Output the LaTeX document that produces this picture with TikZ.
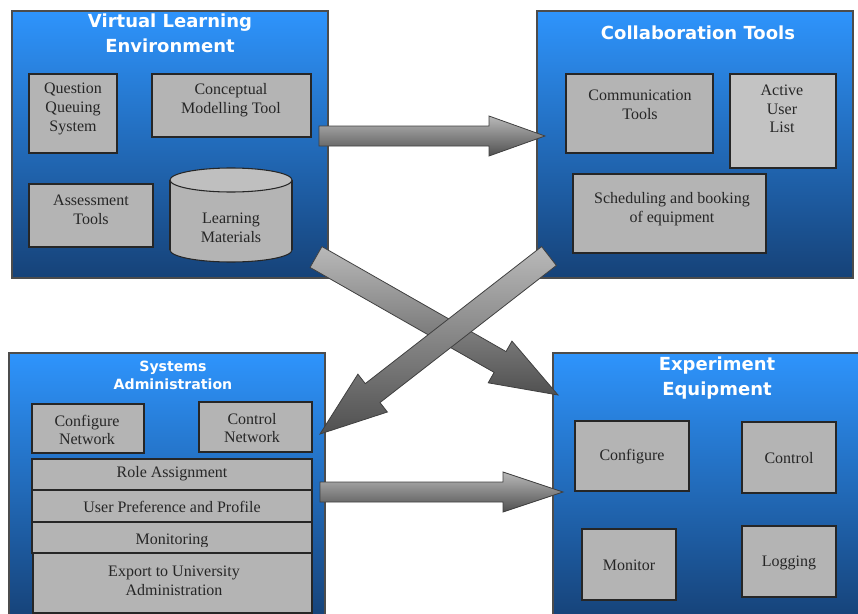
\documentclass[tikz,border=0pt]{standalone}
\usepackage{fontspec}
\setmainfont{Liberation Serif}
\newfontfamily\headfont{DejaVu Sans}
\usepackage{xcolor}
\usetikzlibrary{calc, fit, positioning}

\definecolor{paneltop}{RGB}{46,148,252}
\definecolor{panelbot}{RGB}{22,66,120}
\definecolor{boxgray}{RGB}{180,180,180}
\definecolor{arrowlight}{RGB}{185,185,185}
\definecolor{arrowdark}{RGB}{80,80,80}

% block arrow: from, to, shaft half width, head half width, head length
\newcommand{\fatarrow}[5]{%
  \coordinate (fa-h) at ($(#2)!#5!(#1)$);
  \draw[fat] ($(#1)!#3!90:(#2)$) -- ($(fa-h)!#3!90:(#2)$) -- ($(fa-h)!#4!90:(#2)$)
    -- (#2) -- ($(fa-h)!#4!-90:(#2)$) -- ($(fa-h)!#3!-90:(#2)$) -- ($(#1)!#3!-90:(#2)$) -- cycle;
}

\begin{document}
\begin{tikzpicture}[
    x=0.75pt, y=-0.75pt,
    panel/.style={rectangle, draw=black!70, top color=paneltop, bottom color=panelbot, inner sep=0pt, line width=0.8pt},
    paneltitle/.style={text=white, font=\headfont\bfseries\fontsize{13.5}{19}\selectfont, align=center, inner sep=0pt},
    box/.style={rectangle, draw=black!85, fill=boxgray, inner sep=0pt, line width=0.8pt},
    boxtext/.style={align=center, inner sep=0pt, text=black!85, font=\fontsize{12}{14}\selectfont},
    fat/.style={draw=black!75, line width=0.6pt, top color=arrowlight, bottom color=arrowdark}
]
\clip (0,0) rectangle (858,614);

% panels
\node[panel, fit={(12,11) (328,278)}] (vle) {};
\node[panel, fit={(537,11) (853,278)}] (colab) {};
\node[panel, fit={(9,353) (325,620)}] (sysadm) {};
\node[panel, fit={(553,353) (862,620)}] (equip) {};

\node[paneltitle] (vle-title) at (170,33) {Virtual Learning\\Environment};
\node[paneltitle] (colab-title) at (698,33) {Collaboration Tools};
\node[paneltitle, font=\headfont\bfseries\fontsize{10.6}{13.5}\selectfont] (sysadm-title) at (173,375) {Systems\\Administration};
\node[paneltitle] (equip-title) at (717,378) {Experiment\\Equipment};

% virtual learning environment
\node[box, fit={(29,74) (117,153)}] (qqs) {};
\node[boxtext] (qqs-text) at (73,109) {Question\\Queuing\\System};
\node[box, fit={(152,74) (311,137)}] (cmt) {};
\node[boxtext] (cmt-text) at (231,100) {Conceptual\\Modelling Tool};
\node[box, fit={(29,184) (153,247)}] (asmt) {};
\node[boxtext] (asmt-text) at (91,210) {Assessment\\Tools};
\fill[boxgray, draw=black!85, line width=0.8pt] (231,250) ellipse [x radius=45.75pt, y radius=9pt];
\fill[boxgray] (170,180) rectangle (292,250);
\draw[black!85, line width=0.8pt] (170,180) -- (170,250) (292,180) -- (292,250);
\fill[boxgray!85!white, draw=black!85, line width=0.8pt] (231,180) ellipse [x radius=45.75pt, y radius=9pt];
\node[boxtext] (lm) at (231,228) {Learning\\Materials};

% collaboration tools
\node[box, fit={(566,74) (713,153)}] (comm) {};
\node[boxtext] (comm-text) at (640,105) {Communication\\Tools};
\node[box, fill=boxgray!80!white, fit={(730,74) (836,168)}] (aul) {};
\node[boxtext] (aul-text) at (782,109) {Active\\User\\List};
\node[box, fit={(573,174) (766,253)}] (sched) {};
\node[boxtext] (sched-text) at (672,209) {Scheduling and booking\\of equipment};

% systems administration
\node[box, fit={(32,404) (144,453)}] (cfgnet) {};
\node[boxtext] (cfgnet-text) at (87,430) {Configure\\Network};
\node[box, fit={(199,402) (312,452)}] (ctlnet) {};
\node[boxtext] (ctlnet-text) at (252,428) {Control\\Network};
\node[box, fit={(32,459) (312,490)}] (role) {};
\node[boxtext] (role-text) at (172,474) {Role Assignment};
\node[box, fit={(32,490) (312,522)}] (upp) {};
\node[boxtext] (upp-text) at (172,507) {User Preference and Profile};
\node[box, fit={(32,522) (312,553)}] (monit) {};
\begin{scope}
  \clip (32,522) rectangle (312,546);
  \node[boxtext] (monit-text) at (172,541) {Monitoring};
\end{scope}
\node[box, fit={(33,553) (312,613)}] (export) {};
\node[boxtext] (export-text) at (174,581) {Export to University\\Administration};

% experiment equipment
\node[box, fit={(575,421) (689,491)}] (cfg) {};
\node[boxtext] (cfg-text) at (632,457) {Configure};
\node[box, fit={(742,422) (836,493)}] (ctl) {};
\node[boxtext] (ctl-text) at (789,458) {Control};
\node[box, fit={(582,529) (676,600)}] (mntr) {};
\node[boxtext] (mntr-text) at (629,565) {Monitor};
\node[box, fit={(742,526) (836,597)}] (logg) {};
\node[boxtext] (logg-text) at (789,563) {Logging};

% arrow ends
\coordinate (vle-out) at (319,136);
\coordinate (colab-in) at (545,136);
\coordinate (sysadm-out) at (320,492);
\coordinate (equip-in) at (563,492);
\coordinate (vle-corner) at (316,257);
\coordinate (equip-corner) at (558,395);
\coordinate (colab-corner) at (549,256);
\coordinate (sysadm-corner) at (320,434);

\fatarrow{vle-out}{colab-in}{7.5pt}{15pt}{42pt}
\fatarrow{sysadm-out}{equip-in}{7.5pt}{15pt}{45pt}
\fatarrow{vle-corner}{equip-corner}{9pt}{18pt}{50pt}
\fatarrow{colab-corner}{sysadm-corner}{9pt}{18pt}{50pt}

\end{tikzpicture}
\end{document}
